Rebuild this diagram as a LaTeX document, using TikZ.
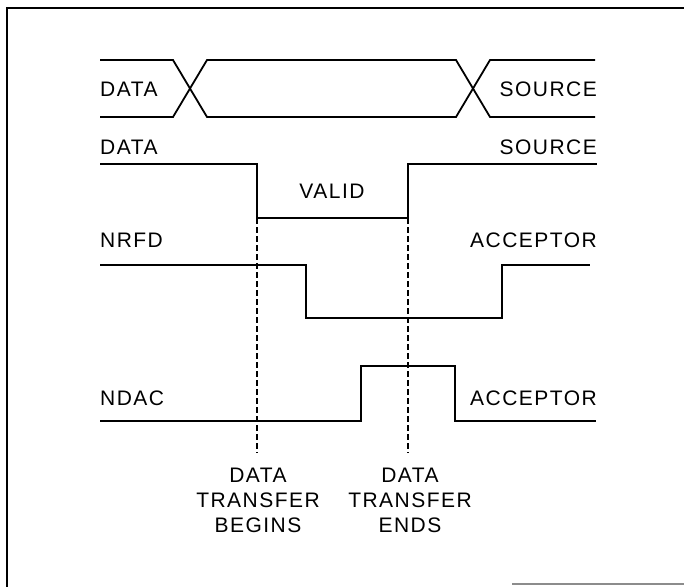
\documentclass[tikz,border=0pt]{standalone}
\usepackage{fontspec}
\newfontfamily\plotfont[LetterSpace=7]{Liberation Sans}
\usetikzlibrary{positioning}

\begin{document}
\begin{tikzpicture}[x=1pt, y=-1pt,
  wave/.style={line width=1.8pt, line join=miter},
  sig/.style={font=\plotfont\fontsize{21}{25}\selectfont, inner sep=0pt},
  marker/.style={line width=1.4pt, dash pattern=on 6pt off 3pt}]
\useasboundingbox (0,0) rectangle (684,586);
% frame (left and top edges, remnant of the bottom)
\draw[line width=2.2pt] (7,587) -- (7,8) -- (684,8);
\draw[line width=1.2pt, black!45] (512,584) -- (684,584);
% Row 0: data bus
\draw[wave] (100,60) -- (173,60) -- (207,117) -- (456,117) -- (490,60) -- (595,60);
\draw[wave] (100,117) -- (173,117) -- (207,60) -- (456,60) -- (490,117) -- (595,117);
\node[sig, anchor=west] (busl) at (100,89) {DATA};
\node[sig, anchor=east] (busr) at (597,89) {SOURCE};
% Row 1: DAV
\coordinate (davfall) at (257,218);
\coordinate (davrise) at (408,218);
\draw[wave] (100,164) -- (257,164) -- (davfall) -- (davrise) -- (408,164) -- (597,164);
\node[sig, anchor=west] (davl) at (100,147) {DATA};
\node[sig, anchor=east] (davr) at (597,147) {SOURCE};
\node[sig] (valid) at (332,191) {VALID};
% Row 2: NRFD
\draw[wave] (100,265) -- (306,265) -- (306,318) -- (502,318) -- (502,265) -- (590,265);
\node[sig, anchor=west] (nrfdl) at (100,240) {NRFD};
\node[sig, anchor=east] (nrfdr) at (597,240) {ACCEPTOR};
% Row 3: NDAC
\draw[wave] (100,421) -- (361,421) -- (361,366) -- (455,366) -- (455,421) -- (596,421);
\node[sig, anchor=west] (ndacl) at (100,398) {NDAC};
\node[sig, anchor=east] (ndacr) at (597,398) {ACCEPTOR};
% Markers
\node[sig, align=center] (begins) at (258,500) {DATA\\TRANSFER\\BEGINS};
\node[sig, align=center] (ends) at (410,500) {DATA\\TRANSFER\\ENDS};
\draw[marker] (davfall) -- ([yshift=14pt]begins.north -| davfall);
\draw[marker] (davrise) -- ([yshift=14pt]ends.north -| davrise);
\end{tikzpicture}
\end{document}
